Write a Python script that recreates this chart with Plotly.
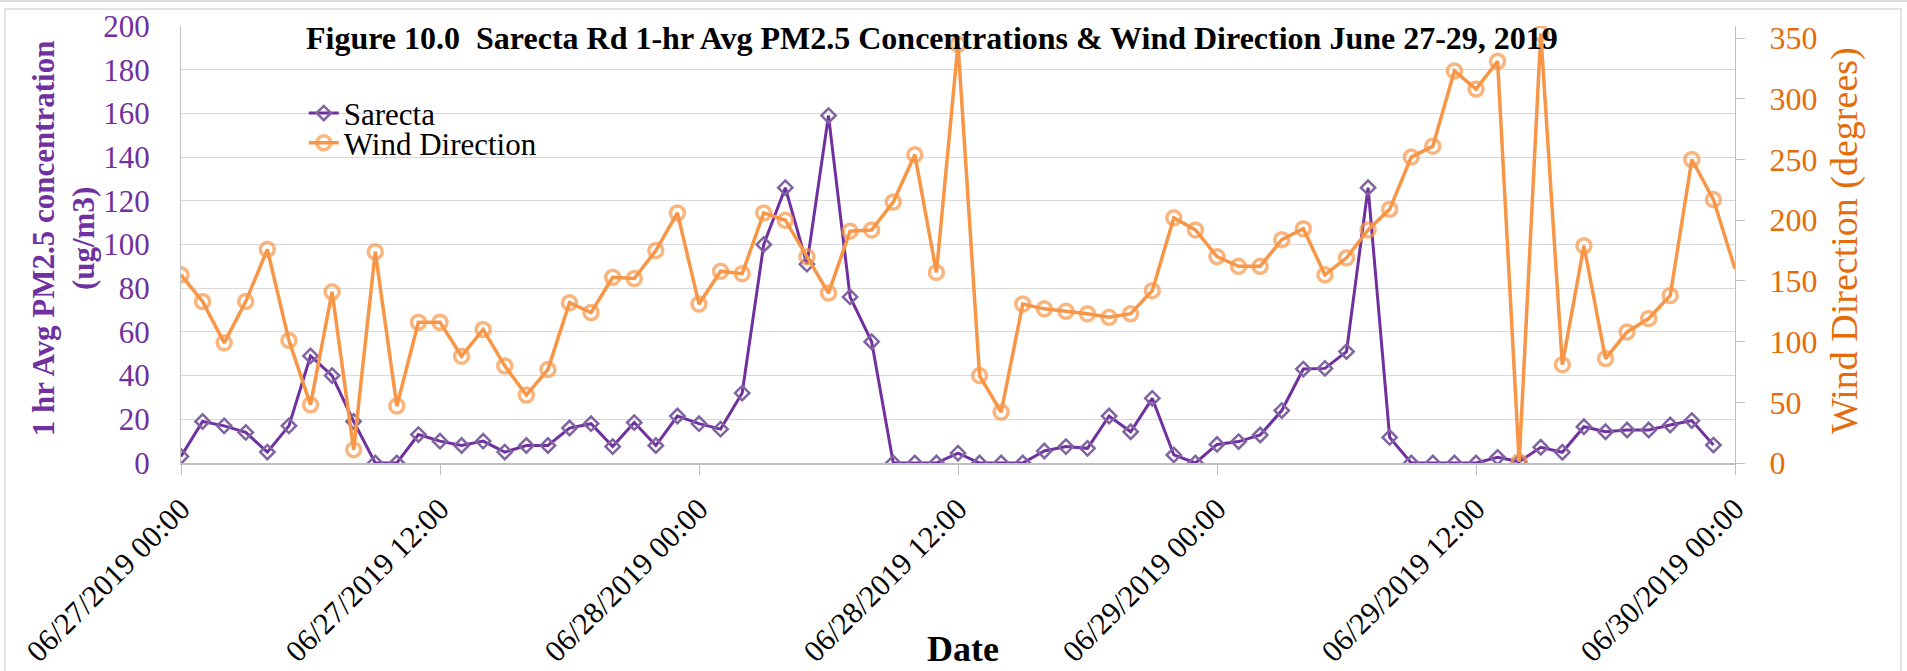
'''
Sarecta Rd hourly PM2.5 vs wind direction, June 27-29 2019.
PM2.5 on the left axis (ug/m3), wind direction on the right (degrees).
'''
import pandas as pd
import plotly.graph_objects as go

# hourly readings, starting 06/27/2019 00:00
sarecta = [3, 19, 17, 14, 5, 17, 49, 40, 19, 0, 0, 13, 10, 8, 10, 5, 8, 8, 16, 18, 7.5, 18.5,
	8, 21.5, 18, 15.5, 32, 100, 126, 91, 159, 76, 55.5,
	0, 0, 0, 4.5, 0, 0, 0, 5.5, 7.5, 6.7, 21.5, 14.3, 29.6, 3.7, 0, 8.5, 9.8,
	12.8, 24, 43, 43.3, 51, 126, 11.7, 0, 0, 0, 0, 2.6, 0.6, 7.2, 4.9, 16.6, 14.3, 15.1, 15.1, 17.4, 19.4, 8.2]

wind_dir = [155, 133, 99, 133, 176, 101, 48, 141, 11, 174, 47, 116, 116, 88, 110, 80, 56, 77, 132, 124, 153, 152,
	175, 206, 131, 158, 156, 206, 200, 170, 140, 191, 192, 215, 254, 157, 345, 72, 42, 131, 127, 125, 123, 120,
	123, 142, 202, 192, 170, 162,
	162, 184, 193, 155, 169, 192, 209, 252, 261, 323, 308, 331, 1, 354, 81, 179, 86, 108, 119, 138, 250, 217, 160]

hours = pd.date_range('2019-06-27 00:00', periods=len(wind_dir), freq='h')

PURPLE = '#7030A0'
PURPLE_MK = '#8064A2'
ORANGE = '#F79646'
ORANGE_TXT = '#E46C0A'
GRID = '#D9D9D9'
AXIS = '#BFBFBF'
FONT = 'Liberation Serif'


def main():
	fig = go.Figure()

	fig.add_trace(go.Scatter(
		x=hours[:len(sarecta)], y=sarecta,
		name='Sarecta', mode='lines+markers',
		line=dict(color=PURPLE, width=3),
		marker=dict(symbol='diamond-open', size=11, color=PURPLE_MK, line=dict(width=2.5, color=PURPLE_MK)),
		legend='legend', showlegend=True))

	# last point sits past the axis end in the original, so no marker there
	sizes = [14] * (len(wind_dir) - 1) + [0]
	fig.add_trace(go.Scatter(
		x=hours, y=wind_dir, yaxis='y2',
		name='Wind Direction', mode='lines+markers',
		line=dict(color=ORANGE, width=3.5),
		marker=dict(symbol='circle-open', size=sizes, color=ORANGE, line=dict(width=3.5, color=ORANGE)),
		legend='legend2', showlegend=True))

	fig.update_layout(
		width=1907, height=671,
		margin=dict(l=181, r=172, t=26, b=208, autoexpand=False),
		plot_bgcolor='white', paper_bgcolor='white',
		font=dict(family=FONT, color='black'),
		showlegend=True,
		xaxis=dict(
			type='date', automargin=False,
			range=['2019-06-27 00:00', '2019-06-30 00:00'],
			tick0='2019-06-27 00:00', dtick=12 * 3600 * 1000,
			tickformat='%m/%d/%Y %H:%M', tickangle=-45,
			tickfont=dict(size=30.5, color='black'),
			ticks='outside', ticklen=10, tickcolor=AXIS,
			ticklabelstandoff=4,
			showline=True, linecolor=AXIS, linewidth=1.5,
			showgrid=False, zeroline=False),
		yaxis=dict(
			automargin=False,
			range=[0, 200], dtick=20,
			tickfont=dict(size=31, color=PURPLE),
			ticklabelstandoff=24,
			showline=True, linecolor=AXIS, linewidth=1,
			gridcolor=GRID, gridwidth=1, zeroline=False),
		yaxis2=dict(
			automargin=False,
			overlaying='y', side='right',
			range=[0, 360], tickvals=[0, 50, 100, 150, 200, 250, 300, 350],
			tickfont=dict(size=32, color=ORANGE_TXT),
			ticks='outside', ticklen=9, tickcolor=AXIS,
			ticklabelstandoff=18,
			showline=True, linecolor=AXIS, linewidth=1,
			showgrid=False, zeroline=False),
		legend=dict(x=0.079, y=0.80, xanchor='left', yanchor='middle',
			font=dict(size=31), bgcolor='rgba(0,0,0,0)'),
		legend2=dict(x=0.079, y=0.732, xanchor='left', yanchor='middle',
			font=dict(size=31), bgcolor='rgba(0,0,0,0)'),
	)

	fig.add_annotation(text='<b>Figure 10.0\u00a0 Sarecta Rd 1-hr Avg PM2.5 Concentrations & Wind Direction June 27-29, 2019</b>',
		xref='paper', yref='paper', x=0.483, y=0.972, showarrow=False,
		xanchor='center', yanchor='middle', font=dict(size=32, color='black'))
	fig.add_annotation(text='<b>1 hr Avg PM2.5 concentration<br>(ug/m3)</b>',
		xref='paper', yref='paper', x=-0.0756, y=0.513, showarrow=False, textangle=-90,
		xanchor='center', yanchor='middle', font=dict(size=31, color=PURPLE))
	fig.add_annotation(text='Wind Direction (degrees)',
		xref='paper', yref='paper', x=1.0701, y=0.51, showarrow=False, textangle=-90,
		xanchor='center', yanchor='middle', font=dict(size=38, color=ORANGE_TXT))
	fig.add_annotation(text='<b>Date</b>',
		xref='paper', yref='paper', x=0.503, y=-0.4256, showarrow=False,
		xanchor='center', yanchor='middle', font=dict(size=36, color='black'))

	# chart frame and the thin grey strip at the top of the screenshot
	fig.add_shape(type='rect', xref='paper', yref='paper', x0=-0.1133, x1=1.1068, y0=-0.5, y1=1.0389,
		line=dict(color=GRID, width=1.5), fillcolor='rgba(0,0,0,0)', layer='below')
	fig.add_shape(type='rect', xref='paper', yref='paper', x0=-0.12, x1=1.12, y0=1.0549, y1=1.07,
		line=dict(width=0), fillcolor='#DDDDDD', layer='below')

	fig.write_html('out.html', config={'displayModeBar': False},
		post_script="document.body.style.margin='0';")


if __name__ == '__main__':
	main()
